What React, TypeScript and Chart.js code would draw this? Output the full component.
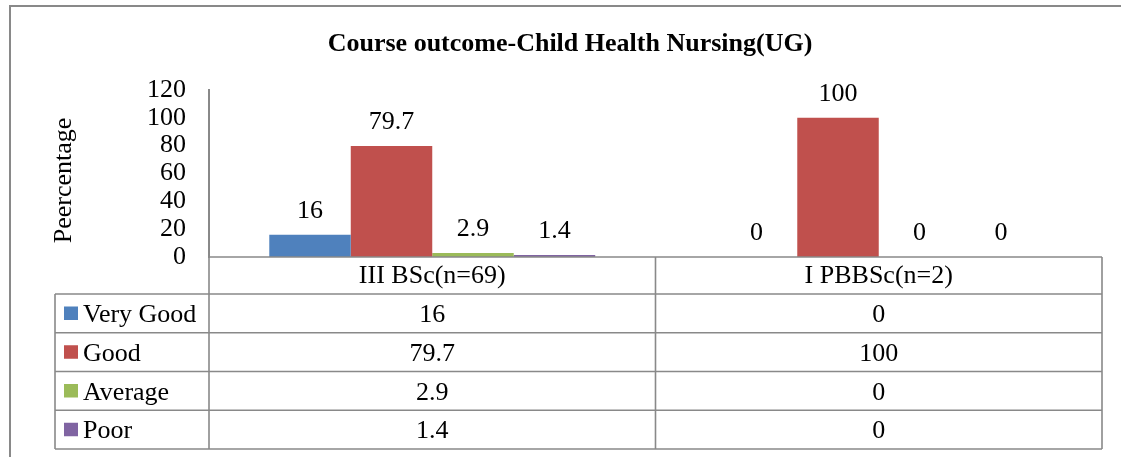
import React, { useEffect, useRef } from "react";
import { Chart, registerables } from "chart.js";

Chart.register(...registerables);

const categories = ["III BSc(n=69)", "I PBBSc(n=2)"];
const seriesNames = ["Very Good", "Good", "Average", "Poor"];
const veryGood = [16, 0];
const good = [79.7, 100];
const average = [2.9, 0];
const poor = [1.4, 0];
const seriesColors = ["#4F81BD", "#C0504D", "#9BBB59", "#8064A2"];
const yMin = 0;
const yMax = 120;
const yStep = 20;
const chartTitle = "Course outcome-Child Health Nursing(UG)";
const yTitle = "Peercentage";

const seriesValues = [veryGood, good, average, poor];

const FONT = '"Liberation Serif", "Times New Roman", serif';
const LINE = "#898989";

const overlayPlugin = {
  id: "overlay",
  afterDatasetsDraw(chart: any) {
    const ctx = chart.ctx;
    ctx.save();
    ctx.font = `26px ${FONT}`;
    ctx.fillStyle = "#000";
    ctx.textAlign = "center";
    ctx.textBaseline = "alphabetic";
    chart.data.datasets.forEach((ds: any, di: number) => {
      const meta = chart.getDatasetMeta(di);
      meta.data.forEach((el: any, i: number) => {
        ctx.fillText(String(ds.data[i]), el.x, el.y - 17);
      });
    });
    ctx.restore();
  },
  afterDraw(chart: any) {
    const ctx = chart.ctx;
    const area = chart.chartArea;
    const ys = chart.scales.y;
    const xs = chart.scales.x;
    const zeroY = ys.getPixelForValue(0);
    const n = categories.length;
    const catW = (area.right - area.left) / n;
    const edges: number[] = [];
    for (let i = 0; i <= n; i++) edges.push(xs.getPixelForValue(0) - catW / 2 + i * catW);
    const headerH = 37;
    const rowH = 38.75;
    const legendLeft = 55;
    const rowsTop = zeroY + headerH;
    const tableBottom = rowsTop + rowH * seriesNames.length;

    ctx.save();
    // outer chart border (top + left visible)
    ctx.strokeStyle = LINE;
    ctx.lineWidth = 2;
    ctx.beginPath();
    ctx.moveTo(10, 1200);
    ctx.lineTo(10, 6);
    ctx.lineTo(1200, 6);
    ctx.stroke();

    // title
    ctx.fillStyle = "#000";
    ctx.font = `bold 26px ${FONT}`;
    ctx.textAlign = "center";
    ctx.textBaseline = "alphabetic";
    ctx.fillText(chartTitle, 570, 51);

    // y title
    ctx.save();
    ctx.translate(71, (area.top + area.bottom) / 2 + 7);
    ctx.rotate(-Math.PI / 2);
    ctx.font = `26px ${FONT}`;
    ctx.fillText(yTitle, 0, 0);
    ctx.restore();

    // table lines
    ctx.strokeStyle = LINE;
    ctx.lineWidth = 1.6;
    ctx.beginPath();
    ctx.moveTo(edges[0], zeroY);
    ctx.lineTo(edges[n], zeroY);
    for (let r = 0; r <= seriesNames.length; r++) {
      const y = rowsTop + r * rowH;
      ctx.moveTo(legendLeft, y);
      ctx.lineTo(edges[n], y);
    }
    for (let i = 0; i <= n; i++) {
      ctx.moveTo(edges[i], i === 0 ? area.top : zeroY);
      ctx.lineTo(edges[i], tableBottom);
    }
    ctx.moveTo(legendLeft, rowsTop);
    ctx.lineTo(legendLeft, tableBottom);
    ctx.stroke();

    // header labels
    ctx.font = `26px ${FONT}`;
    ctx.fillStyle = "#000";
    ctx.textAlign = "center";
    for (let i = 0; i < n; i++) {
      ctx.fillText(categories[i], (edges[i] + edges[i + 1]) / 2, zeroY + 26);
    }
    // rows
    for (let r = 0; r < seriesNames.length; r++) {
      const top = rowsTop + r * rowH;
      ctx.fillStyle = seriesColors[r];
      ctx.fillRect(64, top + 12.5, 14, 13.5);
      ctx.fillStyle = "#000";
      ctx.textAlign = "left";
      ctx.fillText(seriesNames[r], 83, top + 28);
      ctx.textAlign = "center";
      for (let i = 0; i < n; i++) {
        ctx.fillText(String(seriesValues[r][i]), (edges[i] + edges[i + 1]) / 2, top + 28);
      }
    }
    ctx.restore();
  },
};

export default function App() {
  const ref = useRef<HTMLCanvasElement | null>(null);
  useEffect(() => {
    if (!ref.current) return;
    const chart = new Chart(ref.current, {
      type: "bar",
      data: {
        labels: categories,
        datasets: seriesNames.map((name, i) => ({
          label: name,
          data: seriesValues[i],
          backgroundColor: seriesColors[i],
          borderWidth: 0,
          categoryPercentage: 0.73,
          barPercentage: 1,
        })),
      },
      options: {
        responsive: false,
        maintainAspectRatio: false,
        animation: false,
        layout: { padding: { left: 10, top: 90, right: 19, bottom: 0 } },
        plugins: {
          legend: { display: false },
          title: { display: false },
          tooltip: { enabled: false },
        },
        scales: {
          x: {
            grid: { display: false, drawTicks: false },
            border: { display: false },
            ticks: { display: false },
            afterFit: (s: any) => {
              s.height = 200;
            },
          },
          y: {
            min: yMin,
            max: yMax,
            grid: { display: false, drawTicks: false },
            border: { display: true, color: LINE, width: 2 },
            ticks: {
              stepSize: yStep,
              autoSkip: false,
              maxTicksLimit: 20,
              padding: 23,
              color: "#000",
              font: { family: FONT, size: 26, lineHeight: 1 },
            },
            afterFit: (s: any) => {
              s.width = 199;
            },
          },
        },
      },
      plugins: [overlayPlugin],
    });
    return () => chart.destroy();
  }, []);
  return (
    <div style={{ position: "absolute", left: 0, top: 0, width: 1121, height: 457, background: "#fff" }}>
      <canvas ref={ref} width={1121} height={457} style={{ display: "block", width: 1121, height: 457 }} />
    </div>
  );
}
